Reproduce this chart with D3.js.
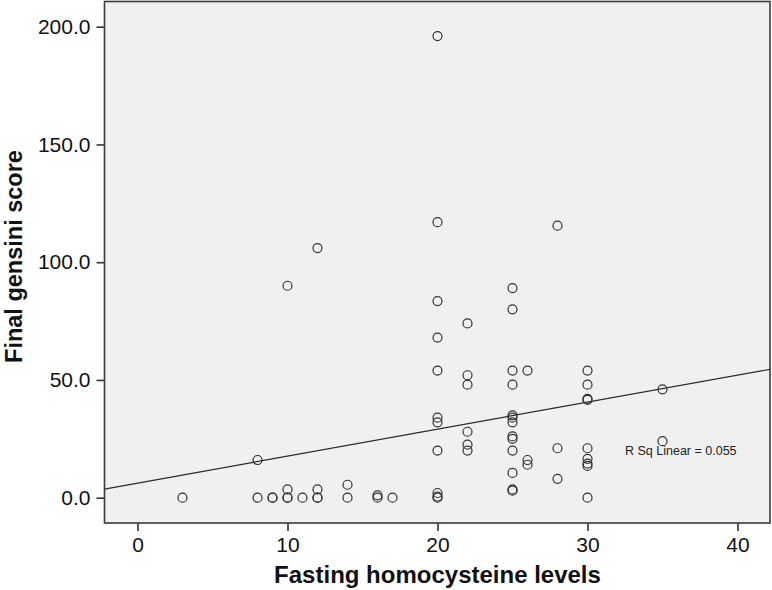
<!DOCTYPE html>
<html>
<head>
<meta charset="utf-8">
<script src="https://cdn.jsdelivr.net/npm/d3@7"></script>
<style>
  html, body { margin: 0; padding: 0; background: #ffffff; }
  svg { display: block; }
  text { font-family: Arial, "Liberation Sans", sans-serif; }
</style>
</head>
<body>
<script>
// ---- Data ----
const homocysteine = [
  3,
  8, 8,
  9, 9,
  10, 10, 10, 10,
  11,
  12, 12, 12, 12,
  14, 14,
  16, 16,
  17,
  20, 20, 20, 20, 20, 20, 20, 20, 20, 20, 20,
  22, 22, 22, 22, 22, 22,
  25, 25, 25, 25, 25, 25, 25, 25, 25, 25, 25, 25, 25,
  26, 26, 26,
  28, 28, 28,
  30, 30, 30, 30, 30, 30, 30, 30, 30,
  35, 35
];
const gensini = [
  0,
  16, 0,
  0, 0,
  90, 3.5, 0, 0,
  0,
  106, 3.5, 0, 0,
  5.5, 0,
  1, 0,
  0,
  196, 117, 83.5, 68, 54, 34, 32, 20, 2, 0.5, 0,
  74, 52, 48, 28, 22.5, 20,
  89, 80, 54, 48, 35, 34, 32, 26, 25, 20, 10.5, 3.5, 3,
  54, 16, 14,
  115.5, 21, 8,
  54, 48, 42, 41.5, 21, 16.5, 14.5, 13.5, 0,
  46, 24
];
const xTicks = [0, 10, 20, 30, 40];
const yTicks = [0, 50, 100, 150, 200];
const fitIntercept = 6.2;
const fitSlope = 1.146;
const rSqLabel = "R Sq Linear = 0.055";
const xTitle = "Fasting homocysteine levels";
const yTitle = "Final gensini score";

// ---- Layout ----
const W = 772, H = 590;
const plot = { left: 104.5, right: 770, top: 1.5, bottom: 523 };

const x = d3.scaleLinear().domain([0, 40]).range([137.5, 737.5]);
const y = d3.scaleLinear().domain([0, 200]).range([497.7, 26.7]);

const svg = d3.select("body").append("svg")
  .attr("width", W).attr("height", H);

svg.append("defs").append("clipPath").attr("id", "clip")
  .append("rect")
  .attr("x", plot.left).attr("y", plot.top)
  .attr("width", plot.right - plot.left).attr("height", plot.bottom - plot.top);

// plot background
svg.append("rect")
  .attr("x", plot.left).attr("y", plot.top)
  .attr("width", plot.right - plot.left).attr("height", plot.bottom - plot.top)
  .attr("fill", "#f0f0f0");

// regression line
const x0 = x.invert(plot.left), x1 = x.invert(plot.right);
svg.append("line")
  .attr("clip-path", "url(#clip)")
  .attr("x1", x(x0)).attr("y1", y(fitIntercept + fitSlope * x0))
  .attr("x2", x(x1)).attr("y2", y(fitIntercept + fitSlope * x1))
  .attr("stroke", "#2a2a2a").attr("stroke-width", 1.2);

// points
const pts = homocysteine.map((v, i) => ({ x: v, y: gensini[i] }));
svg.append("g").selectAll("circle").data(pts).join("circle")
  .attr("cx", d => x(d.x)).attr("cy", d => y(d.y))
  .attr("r", 4.5)
  .attr("fill", "none")
  .attr("stroke", "#333")
  .attr("stroke-width", 1.2);

// frame
svg.append("rect")
  .attr("x", plot.left).attr("y", plot.top)
  .attr("width", plot.right - plot.left).attr("height", plot.bottom - plot.top)
  .attr("fill", "none").attr("stroke", "#3a3a3a").attr("stroke-width", 1.6);

// axes
const xAxis = d3.axisBottom(x).tickValues(xTicks).tickFormat(d3.format("d"))
  .tickSizeInner(8).tickSizeOuter(0).tickPadding(6);
const gx = svg.append("g").attr("transform", `translate(0,${plot.bottom})`).call(xAxis);
gx.select(".domain").remove();
gx.selectAll(".tick line").attr("stroke", "#333").attr("stroke-width", 1.6);
gx.selectAll(".tick text").attr("font-size", "21px").attr("fill", "#111")
  .attr("font-family", "Arial, 'Liberation Sans', sans-serif");

const yAxis = d3.axisLeft(y).tickValues(yTicks).tickFormat(d3.format(".1f"))
  .tickSizeInner(8).tickSizeOuter(0).tickPadding(6);
const gy = svg.append("g").attr("transform", `translate(${plot.left},0)`).call(yAxis);
gy.select(".domain").remove();
gy.selectAll(".tick line").attr("stroke", "#333").attr("stroke-width", 1.6);
gy.selectAll(".tick text").attr("font-size", "21px").attr("fill", "#111")
  .attr("font-family", "Arial, 'Liberation Sans', sans-serif");

// R sq annotation
svg.append("text")
  .attr("x", x(32.5)).attr("y", y(18.1))
  .attr("font-size", "12.5px").attr("fill", "#222")
  .text(rSqLabel);

// axis titles
svg.append("text")
  .attr("x", 437.5).attr("y", 583)
  .attr("text-anchor", "middle")
  .attr("font-size", "24px").attr("font-weight", "bold").attr("fill", "#111")
  .text(xTitle);

svg.append("text")
  .attr("transform", "translate(21.5,256.5) rotate(-90)")
  .attr("text-anchor", "middle")
  .attr("font-size", "23.5px").attr("font-weight", "bold").attr("fill", "#111")
  .text(yTitle);
</script>
</body>
</html>
